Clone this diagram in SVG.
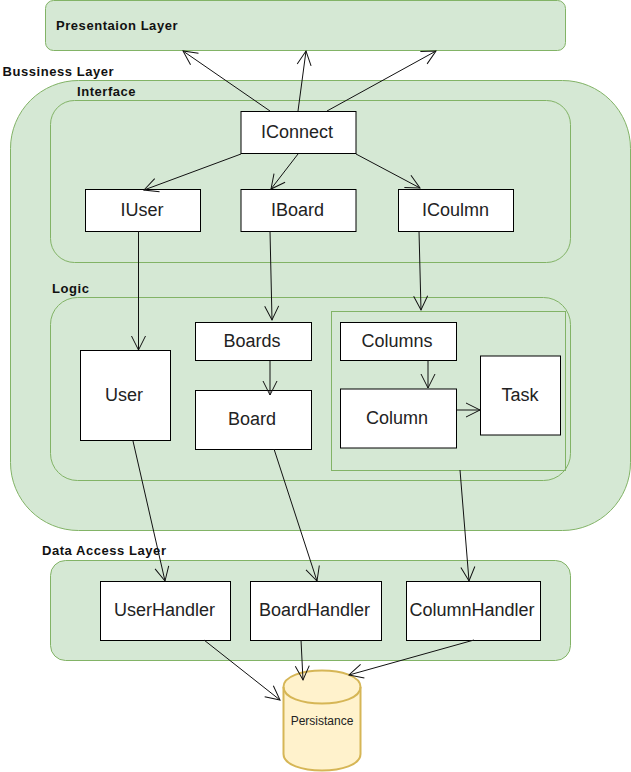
<svg xmlns="http://www.w3.org/2000/svg" width="631" height="772" viewBox="0 0 631 772">
<style>
text{font-family:"Liberation Sans",Arial,sans-serif;text-anchor:middle;fill:#222}
.c{fill:#d5e8d4;stroke:#82b366;stroke-width:1}
.n{fill:#fff;stroke:#000;stroke-width:1}
.t{font-size:18px}
.h{font-size:13px;font-weight:bold;fill:#111;text-anchor:start;letter-spacing:.55px}
.e{fill:none;stroke:#111;stroke-width:1;marker-end:url(#a)}
</style>
<defs><marker id="a" markerUnits="userSpaceOnUse" markerWidth="20" markerHeight="20" refX="15" refY="7.500" orient="auto" overflow="visible"><path d="M1 0.500L15 7.500L1 14.500" fill="none" stroke="#111" stroke-width="1"/></marker></defs>
<rect width="631" height="772" fill="#fff"/>
<g id="presentation"><rect class="c" x="45.500" y="0.500" width="520" height="50" rx="8"/><text class="h" x="56" y="30">Presentaion Layer</text></g>
<g id="business"><rect class="c" x="10.500" y="80.500" width="620" height="450" rx="68"/><text class="h" x="2.500" y="76">Bussiness Layer</text></g>
<g id="interface"><rect class="c" x="50.500" y="100.500" width="520" height="162" rx="24"/><text class="h" x="77" y="96">Interface</text></g>
<g id="logic"><rect class="c" x="50.500" y="297.500" width="520" height="183" rx="27"/><text class="h" x="52" y="293">Logic</text></g>
<g id="data-access"><rect class="c" x="50.500" y="560.500" width="520" height="100" rx="15"/><text class="h" x="42" y="555">Data Access Layer</text></g>
<g id="column-group"><rect x="331.500" y="311.500" width="234" height="159" fill="none" stroke="#82b366"/></g>
<g id="iconnect"><rect class="n" x="241" y="111.500" width="115" height="42"/><text class="t" x="297" y="138">IConnect</text></g>
<g id="iuser"><rect class="n" x="85.500" y="189.500" width="115" height="42"/><text class="t" x="142" y="216">IUser</text></g>
<g id="iboard"><rect class="n" x="241" y="189.500" width="115" height="42"/><text class="t" x="297.500" y="216">IBoard</text></g>
<g id="icolumn"><rect class="n" x="398.500" y="189.500" width="115" height="42"/><text class="t" x="455.500" y="216">ICoulmn</text></g>
<g id="user"><rect class="n" x="80.500" y="350.500" width="90" height="90"/><text class="t" x="124" y="401">User</text></g>
<g id="boards"><rect class="n" x="195.500" y="322.500" width="116" height="38"/><text class="t" x="252" y="347">Boards</text></g>
<g id="board"><rect class="n" x="195.500" y="390.500" width="116" height="59"/><text class="t" x="252" y="425">Board</text></g>
<g id="columns"><rect class="n" x="340.500" y="322.500" width="116" height="38"/><text class="t" x="397" y="347">Columns</text></g>
<g id="column"><rect class="n" x="340.500" y="389" width="116" height="59"/><text class="t" x="397" y="424">Column</text></g>
<g id="task"><rect class="n" x="480.500" y="356" width="80" height="79"/><text class="t" x="520" y="401">Task</text></g>
<g id="user-handler"><rect class="n" x="100.500" y="581.500" width="130" height="59"/><text class="t" x="164.500" y="616">UserHandler</text></g>
<g id="board-handler"><rect class="n" x="250.500" y="581.500" width="131" height="59"/><text class="t" x="314.500" y="616">BoardHandler</text></g>
<g id="column-handler"><rect class="n" x="406.500" y="581.500" width="134" height="59"/><text class="t" x="472" y="616">ColumnHandler</text></g>
<g id="persistance"><path d="M283.500 687C283.500 676 303 670.500 322 670.500C341 670.500 360.500 676 360.500 687V754C360.500 765 341 770.500 322 770.500C303 770.500 283.500 765 283.500 754Z" fill="#fff2cc" stroke="#d6b656" stroke-width="2"/><path d="M283.500 687C283.500 698 303 703.500 322 703.500C341 703.500 360.500 698 360.500 687" fill="none" stroke="#d6b656" stroke-width="2"/><text x="322" y="725" font-size="12">Persistance</text></g>
<g id="connectors">
<path class="e" d="M270 111L183 51"/>
<path class="e" d="M298 111L306 51"/>
<path class="e" d="M327 111L436 51"/>
<path class="e" d="M241 154L144 190"/>
<path class="e" d="M298 154L271 189"/>
<path class="e" d="M356 154L420 188"/>
<path class="e" d="M138.500 231L138.500 350"/>
<path class="e" d="M270 231L272 320"/>
<path class="e" d="M419 231L421 310"/>
<path class="e" d="M270 361L270 395"/>
<path class="e" d="M428 360L428 388"/>
<path class="e" d="M457 410L480 410"/>
<path class="e" d="M133 441L165 581"/>
<path class="e" d="M274 449L317 581"/>
<path class="e" d="M460 470L469 581"/>
<path class="e" d="M204 640L280 700"/>
<path class="e" d="M301 640L303 680"/>
<path class="e" d="M474 640L349 675"/>
</g>
</svg>
